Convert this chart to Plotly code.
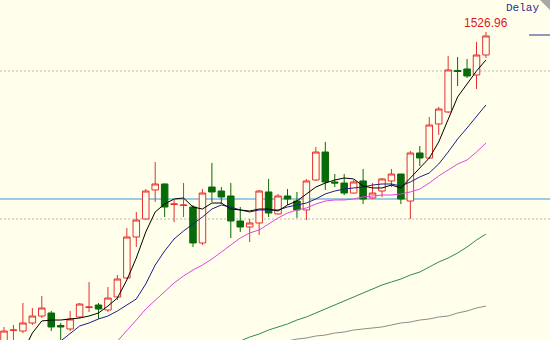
import plotly.graph_objects as go

# ---------------- data ----------------
opens = [1483.38,1484.93,1484.86,1485.95,1486.89,1487.30,1485.61,1485.14,1486.76,1488.04,
         1488.38,1487.70,1489.46,1492.03,1497.57,1500.00,1503.92,1504.73,1501.96,1501.82,
         1501.62,1496.76,1504.32,1503.78,1503.11,1499.73,1498.92,1499.46,1503.65,1500.68,
         1503.11,1502.43,1501.22,1505.27,1509.05,1505.00,1504.86,1503.51,1505.14,1502.84,
         1503.78,1505.14,1506.08,1502.43,1508.92,1508.24,1512.84,1514.46,1520.07,1520.27,
         1519.46,1522.16]
highs = [1485.41,1485.68,1488.65,1487.97,1489.59,1487.57,1485.95,1487.57,1488.65,1491.49,
         1488.65,1490.81,1492.43,1498.78,1500.95,1504.05,1507.70,1504.80,1502.57,1504.86,
         1501.89,1504.05,1507.57,1504.32,1504.86,1501.62,1500.00,1503.92,1505.41,1503.38,
         1504.05,1503.65,1505.41,1509.73,1510.41,1506.08,1506.08,1505.27,1506.76,1504.86,
         1505.54,1506.76,1506.10,1509.19,1509.86,1513.78,1515.14,1522.03,1521.89,1521.62,
         1523.92,1525.27]
lows = [1482.97,1483.65,1484.59,1485.68,1486.62,1484.86,1483.65,1484.86,1486.62,1487.43,
        1486.49,1487.43,1489.05,1491.89,1496.22,1499.90,1502.30,1500.27,1499.59,1500.27,
        1496.22,1496.49,1502.30,1502.03,1497.43,1498.24,1496.89,1497.84,1500.27,1500.60,
        1501.89,1500.14,1499.86,1505.14,1503.92,1504.32,1503.24,1503.45,1502.03,1502.70,
        1502.97,1504.32,1502.03,1500.00,1507.16,1508.18,1511.35,1514.32,1517.97,1519.05,
        1517.57,1521.76]
closes = [1484.86,1485.00,1485.95,1486.89,1487.97,1485.41,1485.41,1486.49,1488.51,1488.11,
          1487.84,1489.32,1491.89,1497.57,1499.86,1503.78,1504.73,1501.62,1502.03,1501.89,
          1496.76,1503.51,1503.65,1502.97,1499.73,1498.92,1499.46,1503.78,1500.81,1503.11,
          1502.70,1501.22,1505.14,1509.05,1505.00,1504.86,1503.51,1505.00,1502.70,1503.51,
          1505.41,1506.08,1502.70,1508.92,1508.24,1512.70,1514.86,1520.14,1519.93,1519.32,
          1522.16,1524.73]
bars = list(range(1, 53))

ma_black_start = 3
ma_black = [1482.03,1484.59,1486.22,1486.35,1486.35,1486.49,1486.62,1486.89,1487.30,1488.24,
            1489.32,1491.76,1494.73,1498.24,1500.95,1502.03,1502.70,1502.84,1501.62,1501.35,
            1502.16,1502.16,1501.35,1501.22,1501.08,1501.35,1501.35,1501.08,1501.89,1502.43,
            1503.38,1504.32,1504.86,1505.27,1505.54,1505.41,1504.46,1504.19,1504.19,1504.59,
            1504.19,1505.54,1507.03,1508.24,1510.41,1513.38,1516.49,1518.24,1520.00,1521.49]
ma_navy_start = 7
ma_navy = [1483.51,1484.59,1485.54,1485.95,1486.49,1486.89,1487.57,1488.38,1489.19,1491.22,
           1493.78,1495.68,1497.30,1498.38,1499.32,1500.27,1501.35,1501.89,1501.62,1501.22,
           1500.95,1501.22,1501.22,1501.22,1501.62,1501.89,1502.16,1502.70,1503.38,1503.78,
           1504.05,1504.19,1504.32,1504.59,1504.73,1504.73,1504.46,1505.00,1505.68,1506.22,
           1507.43,1509.05,1510.81,1512.30,1513.92,1515.41]
ma_magenta_start = 13
ma_magenta = [1483.51,1484.86,1486.35,1487.84,1489.05,1490.27,1491.35,1492.30,1493.11,1493.78,
              1494.59,1495.54,1496.49,1497.43,1498.11,1498.51,1499.32,1500.14,1500.81,1501.22,
              1501.49,1502.03,1502.43,1502.57,1502.57,1502.70,1502.97,1503.11,1503.24,1503.24,
              1503.38,1503.65,1504.05,1504.86,1505.81,1506.62,1507.43,1507.97,1509.05,1510.27]
ma_green_start = 26
ma_green = [1483.51,1484.05,1484.46,1485.00,1485.41,1485.81,1486.35,1486.76,1487.30,1487.84,
            1488.38,1488.92,1489.46,1490.00,1490.54,1491.08,1491.49,1491.89,1492.43,1492.84,
            1493.51,1494.19,1494.73,1495.41,1496.22,1497.16,1497.97]
ma_gray_start = 31
ma_gray = [1483.51,1483.78,1483.92,1484.19,1484.32,1484.59,1484.73,1485.00,1485.14,1485.27,
           1485.41,1485.68,1485.95,1486.08,1486.35,1486.49,1486.76,1486.89,1487.30,1487.57,
           1487.97,1488.24]

grid_levels = [1500.0, 1520.0]
ref_level = 1502.70
last_label = "1526.96"
label_level = 1526.49
delay_text = "Delay"

# ---------------- style ----------------
BG = "#FFFFEB"
RED = "#E43030"
GREEN = "#086A08"

fig = go.Figure()

fig.add_trace(go.Candlestick(
    x=bars, open=opens, high=highs, low=lows, close=closes,
    increasing=dict(line=dict(color=RED, width=1), fillcolor=BG),
    decreasing=dict(line=dict(color=GREEN, width=1), fillcolor=GREEN),
    whiskerwidth=0, hoverinfo="skip", showlegend=False,
))

def ma_trace(start, vals, color):
    xs = list(range(start, start + len(vals)))
    return go.Scatter(x=xs, y=vals, mode="lines", line=dict(color=color, width=1),
                      hoverinfo="skip", showlegend=False)

fig.add_trace(ma_trace(ma_gray_start, ma_gray, "#8C8C8C"))
fig.add_trace(ma_trace(ma_green_start, ma_green, "#2E8B4A"))
fig.add_trace(ma_trace(ma_magenta_start, ma_magenta, "#E444E4"))
fig.add_trace(ma_trace(ma_navy_start, ma_navy, "#1E1E8C"))
fig.add_trace(ma_trace(ma_black_start, ma_black, "#000000"))

shapes = []
for lv in grid_levels:
    shapes.append(dict(type="line", xref="paper", yref="y", x0=0, x1=1, y0=lv, y1=lv,
                       line=dict(color="#B8B8B8", width=1, dash="2px,2px"), layer="below"))
shapes.append(dict(type="line", xref="paper", yref="y", x0=0, x1=1, y0=ref_level, y1=ref_level,
                   line=dict(color="#3A9AD8", width=1), layer="below"))
shapes.append(dict(type="line", xref="paper", yref="y", x0=529/550, x1=1, y0=1524.86, y1=1524.86,
                   line=dict(color="#2A2A96", width=1)))
shapes.append(dict(type="path", xref="paper", yref="paper",
                   path="M 0.9818 1 L 1 1 L 1 0.9706 Z",
                   fillcolor="#A8A8A8", line=dict(width=0)))

annotations = [
    dict(x=52, y=label_level, xref="x", yref="y", text=last_label, showarrow=False,
         font=dict(family="Liberation Sans, Arial", size=12, color="#E01818"),
         xanchor="center", yanchor="middle"),
    dict(x=522/550, y=1 - 8/340, xref="paper", yref="paper", text=delay_text, showarrow=False,
         font=dict(family="Liberation Mono, Courier New", size=11, color="#2A2A96"),
         xanchor="center", yanchor="middle"),
]

fig.update_layout(
    width=550, height=340,
    margin=dict(l=0, r=0, t=0, b=0),
    paper_bgcolor=BG, plot_bgcolor=BG,
    showlegend=False,
    boxgap=0.25, boxgroupgap=0.08,
    shapes=shapes, annotations=annotations,
    xaxis=dict(visible=False, range=[0.577, 58.777], rangeslider=dict(visible=False), fixedrange=True),
    yaxis=dict(visible=False, range=[1483.65, 1529.59], fixedrange=True),
)

fig.write_html("out.html", config={"displayModeBar": False})
